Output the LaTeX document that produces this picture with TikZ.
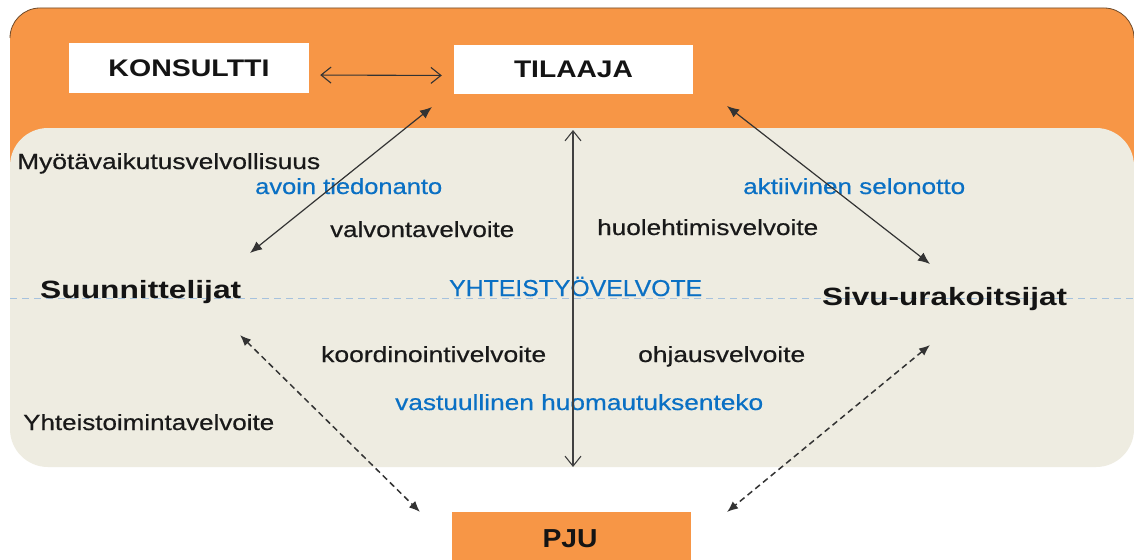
\documentclass[tikz,border=0pt]{standalone}
\usepackage{fontspec}
\setmainfont{Liberation Sans}
\newfontfamily\medfont[FakeBold=0.5]{Liberation Sans}
\usepackage{graphicx}
\usetikzlibrary{arrows.meta}
\definecolor{org}{HTML}{F79646}
\definecolor{bge}{HTML}{EEECE1}
\definecolor{blu}{HTML}{0A70C4}
\definecolor{lnblue}{HTML}{A6C2DE}
\definecolor{rimc}{HTML}{6E4A2A}
\newcommand\fw[2]{\resizebox{#1pt}{\height}{#2}}
\begin{document}
\begin{tikzpicture}[x=1pt,y=-1pt,
  lbl/.style={anchor=base west,inner sep=0pt,text=black!90,font=\medfont\fontsize{22}{26}\selectfont},
  blbl/.style={lbl,text=blu},
  big/.style={anchor=base west,inner sep=0pt,text=black!92,font=\fontsize{25}{30}\selectfont\bfseries},
  boxw/.style={fill=white,minimum width=240pt,minimum height=50pt,inner sep=0pt,text=black!92,font=\fontsize{24}{28}\selectfont\bfseries},
  openarr/.style={draw=black!80,line width=1.1pt,{Straight Barb[length=10pt,width=16pt]}-{Straight Barb[length=10pt,width=16pt]}},
  solidarr/.style={draw=black!80,line width=1.2pt,{Latex[length=12pt,width=10pt]}-{Latex[length=12pt,width=10pt]}},
  dasharr/.style={draw=black!80,line width=1.5pt,dash pattern=on 6pt off 4pt,{Latex[length=11pt,width=9pt]}-{Latex[length=11pt,width=9pt]}}
]
\useasboundingbox (0,0) rectangle (1134,559);
\fill[white] (0,0) rectangle (1134,559);
% background panels
\fill[org,rounded corners=30pt] (10,8) rectangle (1134,220);
\draw[rimc,line width=0.8pt,rounded corners=30pt] (10,38) -- (10,8) -- (1134,8) -- (1134,38);
\fill[bge,rounded corners=38pt] (10,128) rectangle (1134,467);
% dashed mid line
\draw[lnblue,line width=1pt,dash pattern=on 7pt off 5pt] (10,298) -- (1134,298);
% boxes
\node[boxw] (konsult) at (189,68) {\fw{161}{KONSULTTI}};
\node[boxw,minimum width=239pt,minimum height=49pt] (tilaaja) at (573.5,69.5) {\fw{119}{TILAAJA}};
\node[boxw,fill=org,minimum width=239pt] (pju) at (571.5,537) {};
\node[anchor=base,inner sep=0pt,font=\fontsize{26}{30}\selectfont\bfseries,text=black!92] (pjut) at (570,547) {\fw{55}{PJU}};
% party labels
\node[big] (suun) at (40,298) {\fw{201}{Suunnittelijat}};
\node[big] (sivu) at (822,305) {\fw{245}{Sivu-urakoitsijat}};
% duty labels
\node[lbl] (myo) at (17,169) {\fw{303}{Myötävaikutusvelvollisuus}};
\node[blbl] (avoin) at (255,194) {\fw{187}{avoin tiedonanto}};
\node[blbl] (aktiiv) at (743,194) {\fw{222}{aktiivinen selonotto}};
\node[lbl] (valv) at (330,237) {\fw{184}{valvontavelvoite}};
\node[lbl] (huol) at (597,235) {\fw{221}{huolehtimisvelvoite}};
\node[blbl,font=\medfont\fontsize{23}{27}\selectfont] (yht) at (449,296) {\fw{253}{YHTEISTYÖVELVOTE}};
\node[lbl] (koord) at (321,362) {\fw{225}{koordinointivelvoite}};
\node[lbl] (ohj) at (638,362) {\fw{167}{ohjausvelvoite}};
\node[blbl] (vast) at (395,410) {\fw{368}{vastuullinen huomautuksenteko}};
\node[lbl] (yhto) at (23,430) {\fw{251}{Yhteistoimintavelvoite}};
% connector ends
\coordinate (tsw) at (432,107);
\coordinate (tse) at (727,106);
\coordinate (ts) at (573,130);
\coordinate (sune) at (250,253);
\coordinate (suse) at (240,335);
\coordinate (sinw) at (930,264);
\coordinate (sisw) at (930,345);
\coordinate (pn) at (573,467);
\coordinate (pnw) at (420,512);
\coordinate (pne) at (727,512);
% connectors
\draw[openarr,shorten <=11pt,shorten >=12pt] ([yshift=-7pt]konsult.east) -- ([yshift=-6pt]tilaaja.west);
\draw[solidarr] (sune) -- (tsw);
\draw[solidarr] (sinw) -- (tse);
\draw[openarr,draw=black!75] (ts) -- (pn);
\draw[dasharr] (suse) -- (pnw);
\draw[dasharr] (sisw) -- (pne);
\end{tikzpicture}
\end{document}
